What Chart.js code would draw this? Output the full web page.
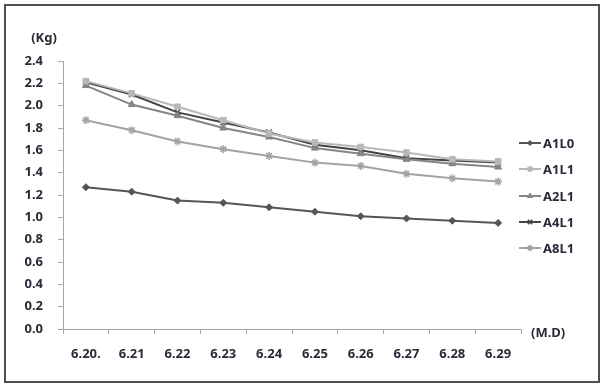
<!DOCTYPE html>
<html>
<head>
<meta charset="utf-8">
<script src="https://cdn.jsdelivr.net/npm/chart.js@4/dist/chart.umd.min.js"></script>
<style>
  html, body { margin: 0; padding: 0; background: #fff; }
  #wrap { width: 603px; height: 384px; position: relative; }
</style>
</head>
<body>
<div id="wrap"><canvas id="weightChart" width="603" height="384"></canvas></div>
<script>
// dates (M.D)
const days = ['6.20.', '6.21', '6.22', '6.23', '6.24', '6.25', '6.26', '6.27', '6.28', '6.29'];

// weight in Kg
const a1l0 = [1.27, 1.23, 1.15, 1.13, 1.09, 1.05, 1.01, 0.99, 0.97, 0.95];
const a1l1 = [2.22, 2.11, 1.99, 1.87, 1.75, 1.67, 1.63, 1.58, 1.52, 1.50];
const a2l1 = [2.18, 2.01, 1.91, 1.80, 1.72, 1.62, 1.57, 1.52, 1.48, 1.45];
const a4l1 = [2.21, 2.10, 1.94, 1.85, 1.76, 1.65, 1.60, 1.53, 1.51, 1.49];
const a8l1 = [1.87, 1.78, 1.68, 1.61, 1.55, 1.49, 1.46, 1.39, 1.35, 1.32];

const yTicks = [0, 0.2, 0.4, 0.6, 0.8, 1.0, 1.2, 1.4, 1.6, 1.8, 2.0, 2.2, 2.4];

const FONT = '"Noto Sans", "DejaVu Sans", sans-serif';
const TEXT = '#2a2a38';

const mkSet = (label, data, color, style, radius) => ({
    label: label,
    data: data,
    borderColor: color,
    backgroundColor: color,
    borderWidth: 2,
    pointStyle: style,
    pointRadius: radius,
    pointBorderWidth: style === 'crossRot' || style === 'star' ? 1.5 : 1,
    tension: 0
});

// legend, unit labels and frame
const extras = {
    id: 'extras',
    afterDraw(chart) {
        const ctx = chart.ctx;
        ctx.save();
        ctx.strokeStyle = '#505050';
        ctx.lineWidth = 2;
        ctx.strokeRect(5, 5, 594, 377);

        ctx.fillStyle = TEXT;
        ctx.font = 'bold 13px ' + FONT;
        ctx.textBaseline = 'middle';
        ctx.textAlign = 'center';
        ctx.fillText('(Kg)', 44, 38);
        ctx.textAlign = 'left';
        ctx.fillText('(M.D)', 531, 333);

        const ys = [143, 169, 196, 222, 248];
        chart.data.datasets.forEach((ds, i) => {
            const y = ys[i];
            ctx.strokeStyle = ds.borderColor;
            ctx.fillStyle = ds.backgroundColor;
            ctx.lineWidth = 2;
            ctx.beginPath();
            ctx.moveTo(519, y);
            ctx.lineTo(541, y);
            ctx.stroke();
            ctx.lineWidth = ds.pointBorderWidth;
            Chart.helpers.drawPoint(ctx, {
                pointStyle: ds.pointStyle,
                radius: ds.pointRadius - 1,
                borderWidth: ds.pointBorderWidth,
                rotation: 0
            }, 530, y);
            ctx.fillStyle = TEXT;
            ctx.font = 'bold 13px ' + FONT;
            ctx.textAlign = 'left';
            ctx.fillText(ds.label, 543, y + 1);
        });
        ctx.restore();
    }
};

new Chart(document.getElementById('weightChart'), {
    type: 'line',
    data: {
        labels: days,
        datasets: [
            mkSet('A1L0', a1l0, '#555555', 'rectRot', 3.5),
            mkSet('A1L1', a1l1, '#b8b8b8', 'rect', 4),
            mkSet('A2L1', a2l1, '#858585', 'triangle', 4),
            mkSet('A4L1', a4l1, '#444444', 'crossRot', 4),
            mkSet('A8L1', a8l1, '#a3a3a3', 'star', 4)
        ]
    },
    options: {
        responsive: false,
        animation: false,
        layout: { padding: { top: 61, right: 82, left: 0, bottom: 0 } },
        plugins: {
            legend: { display: false },
            tooltip: { enabled: false }
        },
        scales: {
            x: {
                offset: true,
                grid: {
                    offset: true,
                    drawOnChartArea: false,
                    drawTicks: true,
                    tickLength: 5,
                    color: '#a8a8a8'
                },
                border: { color: '#a8a8a8', width: 1 },
                ticks: {
                    color: TEXT,
                    font: { family: FONT, size: 13, weight: 'bold' },
                    padding: 12,
                    maxRotation: 0,
                    autoSkip: false
                },
                afterFit(scale) { scale.height = 55; }
            },
            y: {
                min: 0,
                max: 2.4,
                afterBuildTicks(scale) {
                    scale.ticks = yTicks.map(v => ({ value: v }));
                },
                grid: {
                    drawOnChartArea: false,
                    drawTicks: true,
                    tickLength: 5,
                    color: '#a8a8a8'
                },
                border: { color: '#a8a8a8', width: 1 },
                ticks: {
                    color: TEXT,
                    font: { family: FONT, size: 13, weight: 'bold' },
                    padding: 15,
                    callback: v => v.toFixed(1)
                },
                afterFit(scale) { scale.width = 63; }
            }
        }
    },
    plugins: [extras]
});
</script>
</body>
</html>
